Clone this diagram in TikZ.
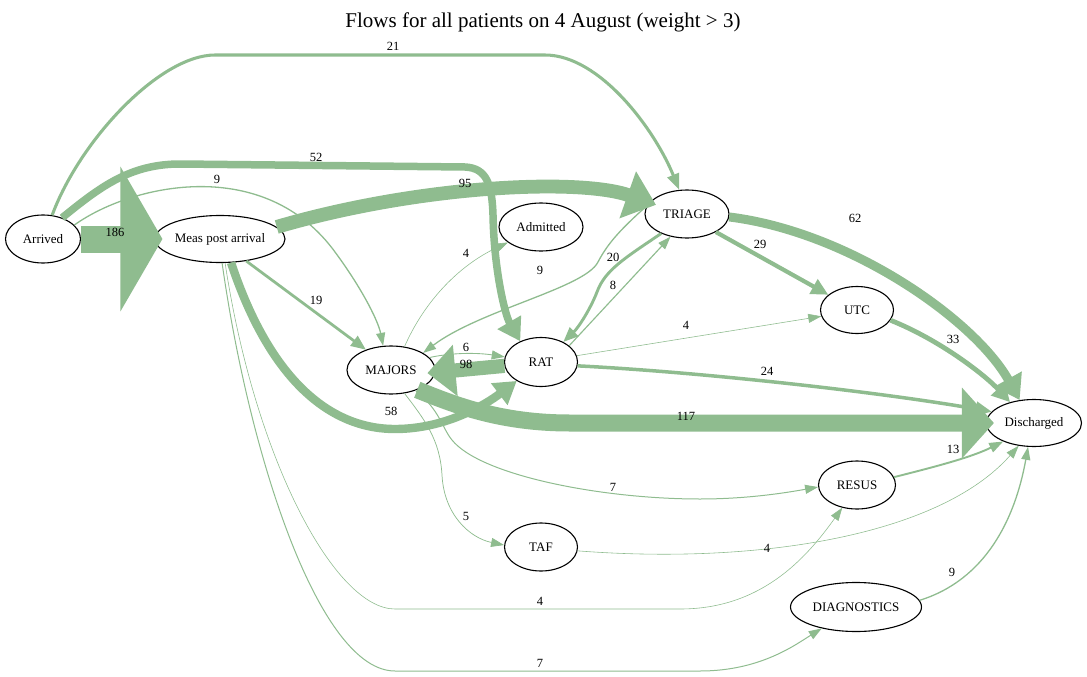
\documentclass[tikz,border=0pt]{standalone}
\usepackage{fontspec}
\setmainfont{Liberation Serif}
\usetikzlibrary{arrows.meta,shapes.geometric}
\definecolor{dsg}{HTML}{8FBC8F}
\begin{document}
\begin{tikzpicture}[x=1pt,y=-1pt,
  st/.style={ellipse,draw,line width=1.1pt,inner sep=0pt,font=\fontsize{13}{15}\selectfont},
  lab/.style={inner sep=0pt,font=\fontsize{12.5}{14}\selectfont},
  flow/.style n args={3}{draw=dsg,line width=#1pt,-{Triangle[length=#2pt,width=#3pt]}}]
\useasboundingbox (0,0) rectangle (1087,677);
% title
\node[font=\fontsize{21}{25}\selectfont] (title) at (543,22) {Flows for all patients on 4 August (weight > 3)};
% nodes
\node[st,minimum width=75pt,minimum height=48pt] (arr) at (43,239) {Arrived};
\node[st,minimum width=130pt,minimum height=47pt] (meas) at (220,239) {Meas post arrival};
\node[st,minimum width=84pt,minimum height=48pt] (adm) at (541,227) {Admitted};
\node[st,minimum width=84pt,minimum height=48pt] (tri) at (687,214) {TRIAGE};
\node[st,minimum width=73pt,minimum height=47pt] (utc) at (857,310) {UTC};
\node[st,minimum width=73pt,minimum height=49pt] (rat) at (541,362) {RAT};
\node[st,minimum width=88pt,minimum height=48pt] (maj) at (391,370) {MAJORS};
\node[st,minimum width=95pt,minimum height=47pt] (dis) at (1034,423) {Discharged};
\node[st,minimum width=77pt,minimum height=48pt] (res) at (857,485) {RESUS};
\node[st,minimum width=73pt,minimum height=48pt] (taf) at (541,547) {TAF};
\node[st,minimum width=131pt,minimum height=49pt] (diag) at (856,607) {DIAGNOSTICS};
% edges
\draw[flow={27}{42}{143},shorten >=-8pt] (arr.east) -- (meas.west);
\draw[flow={3.05}{16}{12}] (arr.69) .. controls (80,140) and (160,55) .. (215,55) -- (545,55) .. controls (600,55) and (655,130) .. (tri.108);
\draw[flow={7.5}{22}{26}] (arr.48) .. controls (100,187) and (130,164) .. (180,164) -- (465,167) .. controls (487,168) and (492,185) .. (493,215) .. controls (494,270) and (505,315) .. (rat.135);
\draw[flow={1.3}{13}{9}] (arr.24) .. controls (130,185) and (260,155) .. (332,248) .. controls (360,285) and (378,320) .. (maj.108);
\draw[flow={13.8}{30}{48},shorten >=-7pt] (meas.12) .. controls (420,185) and (580,178) .. (tri.163);
\draw[flow={2.75}{15}{12}] (meas.320) -- (maj.141);
\draw[flow={8.4}{22}{26}] (meas.295) .. controls (270,380) and (330,429) .. (395,429) .. controls (445,429) and (485,405) .. (rat.218);
\draw[flow={0.58}{13}{9}] (meas.282) .. controls (255,460) and (335,609) .. (395,609) -- (680,609) .. controls (760,609) and (805,560) .. (res.237);
\draw[flow={1.0}{13}{9}] (meas.275) .. controls (250,460) and (320,671) .. (395,671) -- (700,671) .. controls (760,671) and (795,645) .. (diag.212);
\draw[flow={9}{24}{30}] (tri.356) .. controls (850,232) and (975,320) .. (dis.122);
\draw[flow={4.2}{17}{16}] (tri.328) -- (utc.152);
\draw[flow={2.9}{15}{12}] (tri.217) .. controls (625,258) and (605,270) .. (597,292) .. controls (590,310) and (578,328) .. (rat.42);
\draw[flow={1.16}{13}{9}] (rat.30) -- (tri.234);
\draw[flow={1.3}{13}{9}] (tri.168) .. controls (620,230) and (608,243) .. (598,262) .. controls (585,288) and (480,310) .. (maj.28);
\draw[flow={0.58}{13}{9}] (maj.60) .. controls (425,300) and (460,265) .. (adm.205);
\draw[flow={0.87}{13}{9}] (maj.18) .. controls (455,352) and (480,353) .. (rat.172);
\draw[flow={14.2}{28}{50},shorten >=-8pt] (rat.186) -- (maj.357);
\draw[flow={17}{32}{69},shorten >=-8pt] (maj.323) .. controls (455,405) and (500,423) .. (570,423) -- (dis.180);
\draw[flow={1.0}{13}{9}] (maj.320) .. controls (440,410) and (442,428) .. (452,440) .. controls (480,475) and (600,499) .. (700,499) .. controls (750,499) and (790,492) .. (res.183);
\draw[flow={0.73}{13}{9}] (maj.300) .. controls (425,420) and (440,440) .. (442,475) .. controls (444,515) and (470,538) .. (taf.177);
\draw[flow={0.58}{13}{9}] (rat.10) -- (utc.190);
\draw[flow={3.5}{16}{14}] (rat.354) .. controls (700,372) and (880,392) .. (dis.165);
\draw[flow={4.8}{18}{18}] (utc.343) .. controls (940,340) and (985,375) .. (dis.139);
\draw[flow={1.9}{14}{10}] (res.12) .. controls (930,468) and (970,458) .. (dis.211);
\draw[flow={0.58}{13}{9}] (taf.354) .. controls (760,565) and (940,535) .. (dis.236);
\draw[flow={1.3}{13}{9}] (diag.6) .. controls (985,580) and (1015,520) .. (dis.256);
% edge labels
\node[lab] (l1) at (115,232) {186};
\node[lab] (l2) at (393,46) {21};
\node[lab] (l3) at (316,157) {52};
\node[lab] (l4) at (217,179) {9};
\node[lab] (l5) at (465,183) {95};
\node[lab] (l6) at (540,270) {9};
\node[lab] (l7) at (466,253) {4};
\node[lab] (l8) at (316,300) {19};
\node[lab] (l9) at (855,218) {62};
\node[lab] (l10) at (760,244) {29};
\node[lab] (l11) at (613,257) {20};
\node[lab] (l12) at (613,285) {8};
\node[lab] (l13) at (686,325) {4};
\node[lab] (l14) at (953,339) {33};
\node[lab] (l15) at (466,347) {6};
\node[lab] (l16) at (466,364) {98};
\node[lab] (l17) at (767,371) {24};
\node[lab] (l18) at (391,411) {58};
\node[lab] (l19) at (686,416) {117};
\node[lab] (l20) at (953,449) {13};
\node[lab] (l21) at (613,487) {7};
\node[lab] (l22) at (466,516) {5};
\node[lab] (l23) at (767,548) {4};
\node[lab] (l24) at (540,601) {4};
\node[lab] (l25) at (952,572) {9};
\node[lab] (l26) at (540,663) {7};
\end{tikzpicture}
\end{document}
